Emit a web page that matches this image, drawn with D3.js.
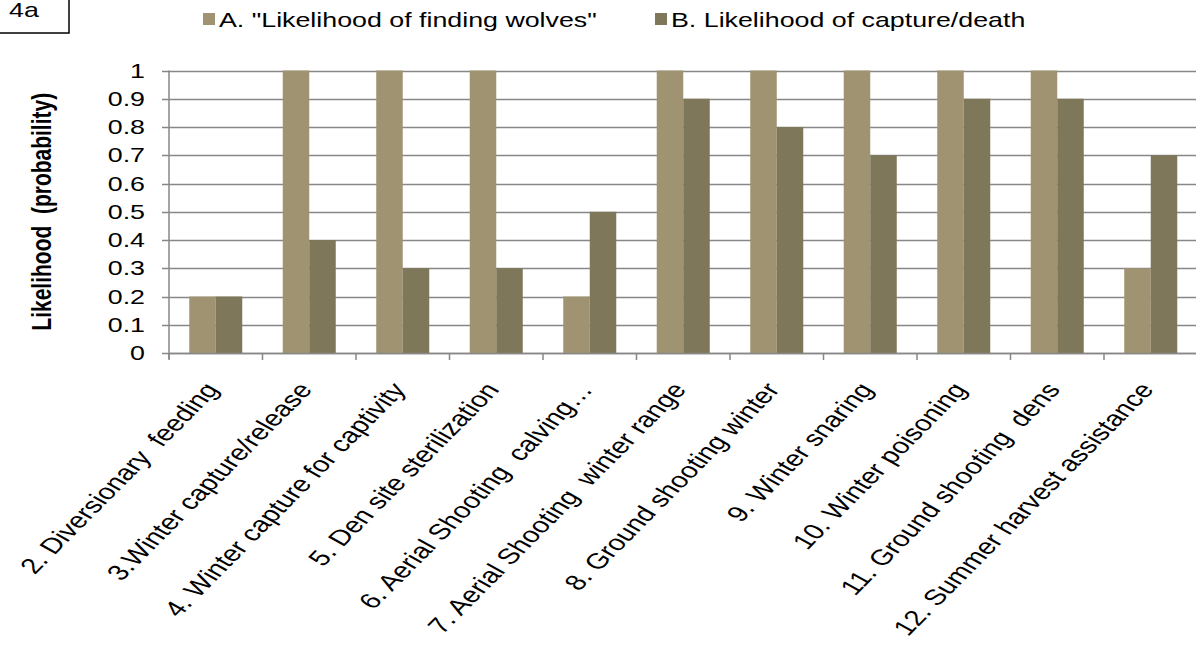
<!DOCTYPE html>
<html>
<head>
<meta charset="utf-8">
<script src="https://cdn.jsdelivr.net/npm/d3@7"></script>
<style>
  html, body { margin: 0; padding: 0; background: #fff; }
  svg { display: block; font-family: "Liberation Sans", Arial, sans-serif; }
</style>
</head>
<body>
<svg id="chart" width="1196" height="656"></svg>
<script>
const categories = [
  "2. Diversionary  feeding",
  "3.Winter capture/release",
  "4. Winter capture for captivity",
  "5. Den site sterilization",
  "6. Aerial Shooting  calving…",
  "7. Aerial Shooting  winter range",
  "8. Ground shooting winter",
  "9. Winter snaring",
  "10. Winter poisoning",
  "11. Ground shooting  dens",
  "12. Summer harvest assistance"
];
const seriesNames = ["A. \"Likelihood of finding wolves\"", "B. Likelihood of capture/death"];
const seriesA = [0.2, 1, 1, 1, 0.2, 1, 1, 1, 1, 1, 0.3];
const seriesB = [0.2, 0.4, 0.3, 0.3, 0.5, 0.9, 0.8, 0.7, 0.9, 0.9, 0.7];
const yTicks = [0, 0.1, 0.2, 0.3, 0.4, 0.5, 0.6, 0.7, 0.8, 0.9, 1];
const yTitle = "Likelihood  (probability)";
const panelLabel = "4a";

const colors = ["#a09371", "#7f7759"];
const SX = 1.34; // horizontal stretch of the text in the reference
const svg = d3.select("#chart");

const pLeft = 169, pRight = 1197.5, pTop = 70.5, pBottom = 353;

const x = d3.scaleBand().domain(categories).range([pLeft, pRight]).paddingInner(0).paddingOuter(0);
const x1 = d3.scaleBand().domain([0, 1]).range([0, x.bandwidth()]).paddingInner(0).paddingOuter(0.764);
const y = d3.scaleLinear().domain([0, 1]).range([pBottom, pTop]);

// gridlines
svg.append("g").selectAll("line").data(yTicks).join("line")
  .attr("x1", pLeft - 7).attr("x2", pRight)
  .attr("y1", d => Math.round(y(d)) + 0.5).attr("y2", d => Math.round(y(d)) + 0.5)
  .attr("stroke", "#878787").attr("stroke-width", 1.5);

// y tick labels
svg.append("g").selectAll("text").data(yTicks).join("text")
  .attr("transform", d => `translate(145,${y(d)}) scale(${SX},1)`)
  .attr("dy", "0.36em")
  .attr("text-anchor", "end")
  .attr("font-size", 20)
  .attr("fill", "#000")
  .text(d => d3.format("~g")(d));

// bars
const series = [seriesA, seriesB];
const g = svg.append("g");
categories.forEach((c, i) => {
  series.forEach((s, k) => {
    g.append("rect")
      .attr("x", x(c) + x1(k))
      .attr("width", x1.bandwidth())
      .attr("y", y(s[i]))
      .attr("height", y(0) - y(s[i]))
      .attr("fill", colors[k]);
  });
});

// y axis line
svg.append("line").attr("x1", pLeft).attr("x2", pLeft).attr("y1", pTop).attr("y2", pBottom + 6)
  .attr("stroke", "#878787").attr("stroke-width", 1.5);
// x axis line
svg.append("line").attr("x1", pLeft).attr("x2", pRight).attr("y1", pBottom + 0.5).attr("y2", pBottom + 0.5)
  .attr("stroke", "#878787").attr("stroke-width", 1.5);
// x ticks (category boundaries)
svg.append("g").selectAll("line").data(categories).join("line")
  .attr("x1", d => x(d)).attr("x2", d => x(d))
  .attr("y1", pBottom).attr("y2", pBottom + 7)
  .attr("stroke", "#878787").attr("stroke-width", 1.5);

// x labels
svg.append("g").selectAll("text").data(categories).join("text")
  .attr("transform", d => `translate(${x(d) + x.bandwidth() / 2 + 4},${pBottom + 37}) scale(${SX},1) rotate(-53.3)`)
  .attr("text-anchor", "end")
  .attr("font-size", 22)
  .attr("fill", "#000")
  .style("white-space", "pre")
  .text(d => d);

// y title
svg.append("text")
  .attr("transform", `translate(51,${(pTop + pBottom) / 2}) scale(${SX},1) rotate(-90)`)
  .attr("text-anchor", "middle")
  .attr("font-size", 21)
  .attr("font-weight", "bold")
  .style("white-space", "pre")
  .text(yTitle);

// legend
const legendX = [203, 655];
const legendTextX = [219, 671];
seriesNames.forEach((n, k) => {
  svg.append("rect").attr("x", legendX[k]).attr("y", 13).attr("width", 12).attr("height", 12).attr("fill", colors[k]);
  svg.append("text").attr("transform", `translate(${legendTextX[k]},27) scale(${SX},1)`)
    .attr("font-size", 20).attr("fill", "#000").text(n);
});

// panel label box
svg.append("rect").attr("x", -2).attr("y", -2).attr("width", 71).attr("height", 35)
  .attr("fill", "none").attr("stroke", "#000").attr("stroke-width", 1.5);
svg.append("text").attr("transform", "translate(9,17) scale(1.34,1)")
  .attr("font-size", 20).attr("fill", "#000").text(panelLabel);
</script>
</body>
</html>
